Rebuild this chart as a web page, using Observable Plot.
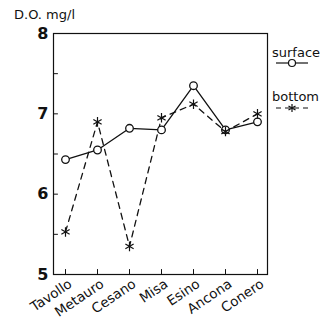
<!DOCTYPE html>
<html>
<head>
<meta charset="utf-8">
<script src="https://cdn.jsdelivr.net/npm/d3@7"></script>
<script src="https://cdn.jsdelivr.net/npm/@observablehq/plot@0.6"></script>
<style>
  body { margin: 0; background: #fff; }
  #wrap { position: relative; width: 321px; height: 320px; overflow: hidden; font-family: "DejaVu Sans", sans-serif; color: #111; }
  #title { position: absolute; left: 14px; top: 7px; font-size: 13px; }
  .leg { position: absolute; left: 272px; font-size: 13px; white-space: nowrap; }
  .legsym { position: absolute; left: 276px; }
</style>
</head>
<body>
<div id="wrap">
  <div id="chart"></div>
  <div id="title">D.O. mg/l</div>
  <div class="leg" style="top:45px">surface</div>
  <svg class="legsym" style="top:57px" width="36" height="12">
    <line x1="0" y1="6" x2="32" y2="6" stroke="#111" stroke-width="1.2"/>
    <circle cx="16" cy="6" r="3.5" fill="white" stroke="#111" stroke-width="1.2"/>
  </svg>
  <div class="leg" style="top:89px">bottom</div>
  <svg class="legsym" style="top:102px" width="36" height="12">
    <line x1="0" y1="6" x2="32" y2="6" stroke="#111" stroke-width="1.2" stroke-dasharray="5,4"/>
    <g stroke="#111" stroke-width="1.2"><line x1="16" y1="2" x2="16" y2="10"/><line x1="12.5" y1="4" x2="19.5" y2="8"/><line x1="12.5" y1="8" x2="19.5" y2="4"/></g>
  </svg>
</div>
<script>
const stations = ["Tavollo", "Metauro", "Cesano", "Misa", "Esino", "Ancona", "Conero"];
const surface = [6.43, 6.55, 6.82, 6.8, 7.35, 6.8, 6.9];
const bottom = [5.53, 6.9, 5.35, 6.95, 7.12, 6.78, 7.0];
const yTicks = [5, 6, 7, 8];
const yMinorTicks = [5.5, 6, 6.5, 7, 7.5];

const surf = stations.map((s, i) => ({station: s, value: surface[i]}));
const bot = stations.map((s, i) => ({station: s, value: bottom[i]}));

const tickShape = {draw(context, l) { context.moveTo(0, 0); context.lineTo(0, -l); }};

const chart = Plot.plot({
  width: 321,
  height: 320,
  marginTop: 33,
  marginBottom: 46,
  marginLeft: 53,
  marginRight: 54,
  style: {fontFamily: "DejaVu Sans, sans-serif", color: "#111", background: "white"},
  x: {type: "point", domain: stations, padding: 0.27, align: 0.56, label: null},
  y: {type: "linear", domain: [5, 8], label: null},
  marks: [
    Plot.frame({stroke: "#111", strokeWidth: 1.2}),
    Plot.axisY({ticks: yTicks, tickFormat: d3.format("d"), tickSize: 0, tickPadding: 5, fontSize: 16, fontWeight: "bold", label: null}),
    Plot.vector(yMinorTicks, {y: d => d, frameAnchor: "left", rotate: 90, length: 4, anchor: "start", shape: tickShape, stroke: "#111", strokeWidth: 1}),
    Plot.axisX({tickSize: 0, tickRotate: -34, textAnchor: "end", fontSize: 13.5, tickPadding: 5, dx: 5, dy: 3, label: null}),
    Plot.vector(stations, {x: d => d, frameAnchor: "bottom", rotate: 0, length: 5, anchor: "start", shape: tickShape, stroke: "#111", strokeWidth: 1}),
    Plot.line(bot, {x: "station", y: "value", stroke: "#111", strokeWidth: 1.3, strokeDasharray: "6,5"}),
    Plot.line(surf, {x: "station", y: "value", stroke: "#111", strokeWidth: 1.3}),
    Plot.dot(surf, {x: "station", y: "value", r: 3.8, fill: "white", stroke: "#111", strokeWidth: 1.3}),
    Plot.dot(bot, {x: "station", y: "value", symbol: "asterisk", r: 4.5, stroke: "#111", strokeWidth: 1.2})
  ]
});
document.getElementById("chart").appendChild(chart);
</script>
</body>
</html>
